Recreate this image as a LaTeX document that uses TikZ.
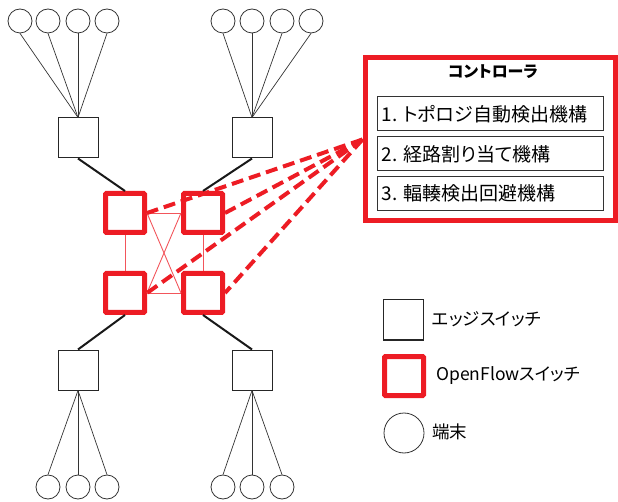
\documentclass[tikz,border=0pt]{standalone}
\usepackage{fontspec}
\setmainfont{Noto Sans CJK JP}[RawFeature=+palt]
\definecolor{ofred}{RGB}{237,28,36}
\begin{document}
\begin{tikzpicture}[x=1pt,y=-1pt,
  term/.style={circle,draw=black!80,line width=0.8pt,minimum size=24pt,inner sep=0pt},
  es/.style={draw=black!85,line width=1pt,minimum size=40pt,inner sep=0pt},
  ofs/.style={draw=ofred,line width=5pt,minimum size=39pt,inner sep=0pt,rounded corners=1pt},
  tl/.style={draw=black!80,line width=0.7pt},
  up/.style={draw=black!90,line width=2pt},
  thinred/.style={draw=ofred!75,line width=0.9pt},
  ctl/.style={draw=ofred,line width=4pt,dash pattern=on 12pt off 6pt},
  item/.style={draw=black!80,line width=1pt,minimum width=226pt,minimum height=34pt,inner sep=0pt},
  itemtext/.style={anchor=west,font=\fontsize{19}{22}\selectfont,inner sep=0pt},
  legtext/.style={anchor=west,font=\fontsize{17.5}{20}\selectfont,inner sep=0pt}
]
\useasboundingbox (0,0) rectangle (618,502);
% top terminals
\foreach \i/\x in {1/20,2/48,3/78,4/107}{\node[term] (a\i) at (\x,21) {};}
\foreach \i/\x in {1/223,2/252,3/282,4/311}{\node[term] (b\i) at (\x,21) {};}
% bottom terminals
\foreach \i/\x in {1/48,2/78,3/107}{\node[term] (c\i) at (\x,487) {};}
\foreach \i/\x in {1/223,2/252,3/282}{\node[term] (d\i) at (\x,487) {};}
% edge switches
\node[es] (E1) at (78,138) {};
\node[es] (E2) at (252,138) {};
\node[es] (E3) at (78,370) {};
\node[es] (E4) at (252,370) {};
% openflow switches
\node[ofs] (TL) at (125,213) {};
\node[ofs] (TR) at (203,213) {};
\node[ofs] (BL) at (125,293) {};
\node[ofs] (BR) at (203,293) {};
% terminal links
\foreach \i in {1,2,3,4}{\draw[tl] (a\i.south) -- (E1.north); \draw[tl] (b\i.south) -- (E2.north);}
\foreach \i in {1,2,3}{\draw[tl] (E3.south) -- (c\i.north); \draw[tl] (E4.south) -- (d\i.north);}
% uplinks
\draw[up] (E1.south) -- (TL.north);
\draw[up] (E2.south) -- (TR.north);
\draw[up] (E3.north) -- (BL.south);
\draw[up] (E4.north) -- (BR.south);
% mesh
\draw[thinred] (TL.east) -- (TR.west);
\draw[thinred] (BL.east) -- (BR.west);
\draw[thinred] (TL.south) -- (BL.north);
\draw[thinred] (TR.south) -- (BR.north);
\draw[thinred] (TL.east) -- (BR.west);
\draw[thinred] (TR.west) -- (BL.east);
% controller
\node[draw=ofred,line width=5pt,minimum width=250pt,minimum height=163pt,inner sep=0pt] (ctrl) at (490,139.5) {};
\node[font=\fontsize{16}{19}\selectfont\bfseries] (title) at (493,72) {コントローラ};
\node[item] (m1) at (490,114) {};
\node[item] (m2) at (490,154) {};
\node[item] (m3) at (490,193.5) {};
\node[itemtext] at ([xshift=5pt]m1.west) {1. トポロジ自動検出機構};
\node[itemtext] at ([xshift=5pt]m2.west) {2. 経路割り当て機構};
\node[itemtext] at ([xshift=5pt]m3.west) {3. 輻輳検出回避機構};
% control links
\foreach \s in {TL,TR,BL,BR}{\draw[ctl] (ctrl.west) -- (\s.east);}
% legend
\node[es] (L1) at (403,320) {};
\node[ofs] (L2) at (404,376) {};
\node[circle,draw=black!80,line width=0.8pt,minimum size=40pt,inner sep=0pt] (L3) at (404,433) {};
\node[legtext] at (432,319) {エッジスイッチ};
\node[legtext] at (436,376) {OpenFlowスイッチ};
\node[legtext] at (432,432) {端末};
\end{tikzpicture}
\end{document}
